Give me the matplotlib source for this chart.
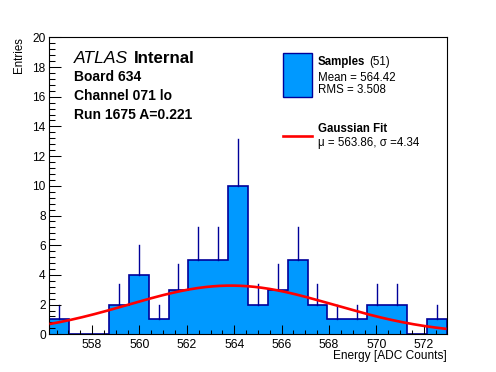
import numpy as np
import matplotlib
matplotlib.use("Agg")
import matplotlib.pyplot as plt
from matplotlib.patches import Rectangle
from matplotlib.lines import Line2D
from matplotlib.ticker import MultipleLocator, FormatStrFormatter

plt.rcParams['font.family'] = ['Liberation Sans', 'DejaVu Sans']

# ---- data ----
counts = [1, 0, 0, 2, 4, 1, 3, 5, 5, 10, 2, 3, 5, 2, 1, 1, 2, 2, 0, 1]
x_min, x_max = 556.2, 572.96
fit_mu, fit_sigma, fit_amp = 563.86, 4.34, 3.28
y_max = 20
title_lines = ["Board 634", "Channel 071 lo", "Run 1675 A=0.221"]

W, H = 496, 372
fig = plt.figure(figsize=(W / 100, H / 100), dpi=100)

def fx(px):
    return px / W

def fy(py):
    return 1 - py / H

ax = fig.add_axes([fx(49.4), fy(334.3), fx(446.5) - fx(49.4), fy(37.3) - fy(334.3)])

fill_c = '#0099ff'
edge_c = '#000099'

counts_a = np.array(counts, dtype=float)
edges = np.linspace(x_min, x_max, len(counts) + 1)
centers = 0.5 * (edges[:-1] + edges[1:])

ax.stairs(counts_a, edges, fill=True, color=fill_c, zorder=1)
ax.stairs(counts_a, edges, fill=False, color=edge_c, linewidth=1.2, baseline=0, zorder=2)
for c, n in zip(centers, counts_a):
    if n > 0:
        ax.plot([c, c], [n, n + np.sqrt(n)], color=edge_c, linewidth=1.0, zorder=2)

xs = np.linspace(x_min, x_max, 400)
ys = fit_amp * np.exp(-0.5 * ((xs - fit_mu) / fit_sigma) ** 2)
ax.plot(xs, ys, color='#ff0000', linewidth=1.9, zorder=3, solid_capstyle='butt')

ax.set_xlim(x_min, x_max)
ax.set_ylim(0, y_max)
ax.set_axisbelow(False)
ax.xaxis.set_major_locator(MultipleLocator(2))
ax.xaxis.set_minor_locator(MultipleLocator(0.5))
ax.yaxis.set_major_locator(MultipleLocator(2))
ax.yaxis.set_minor_locator(MultipleLocator(0.4))
ax.tick_params(axis='x', which='major', direction='in', length=6.5, width=0.75, labelsize=8.8, pad=3.2)
ax.tick_params(axis='x', which='minor', direction='in', length=3.2, width=0.75)
ax.tick_params(axis='y', which='major', direction='in', length=8.6, width=0.75, labelsize=8.6, pad=2.7)
ax.tick_params(axis='y', which='minor', direction='in', length=4.3, width=0.75)
ax.tick_params(top=False, right=False, which='both')
for s in ax.spines.values():
    s.set_linewidth(0.8)
ax.xaxis.set_major_formatter(FormatStrFormatter('%d'))
ax.yaxis.set_major_formatter(FormatStrFormatter('%d'))

# axis titles
fig.text(fx(446.5), fy(359), 'Energy [ADC Counts]', ha='right', va='baseline', fontsize=8.6)
fig.text(fx(19), fy(37), 'Entries', rotation=90, ha='center', va='top', fontsize=8.3)

# ATLAS label
fig.text(fx(74), fy(63.3), 'ATLAS', style='italic', fontsize=12.6, ha='left', va='baseline')
fig.text(fx(134.3), fy(63.3), 'Internal', weight='bold', fontsize=12.2, ha='left', va='baseline')
for line, yb in zip(title_lines, [81, 100, 119]):
    fig.text(fx(74), fy(yb), line, weight='bold', fontsize=10, ha='left', va='baseline')

# legend
fig.add_artist(Rectangle((fx(283.3), fy(96.7)), fx(311.7) - fx(283.3), fy(53.3) - fy(96.7),
                         transform=fig.transFigure, facecolor=fill_c, edgecolor=edge_c, linewidth=1.0))
fig.text(fx(317.7), fy(65), 'Samples', weight='bold', fontsize=8.3, ha='left', va='baseline')
fig.text(fx(369.3), fy(65), '(51)', fontsize=8.3, ha='left', va='baseline')
fig.text(fx(317.7), fy(81), 'Mean = 564.42', fontsize=8.3, ha='left', va='baseline')
fig.text(fx(317.7), fy(93.3), 'RMS = 3.508', fontsize=8.3, ha='left', va='baseline')
fig.add_artist(Line2D([fx(283.3), fx(311.7)], [fy(135.7), fy(135.7)], transform=fig.transFigure,
                      color='#ff0000', linewidth=1.9))
fig.text(fx(317.7), fy(132.3), 'Gaussian Fit', weight='bold', fontsize=8.3, ha='left', va='baseline')
fig.text(fx(317.7), fy(145.7), 'μ = 563.86, σ =4.34', fontsize=8.3, ha='left', va='baseline')

fig.savefig('out.png', dpi=100)
